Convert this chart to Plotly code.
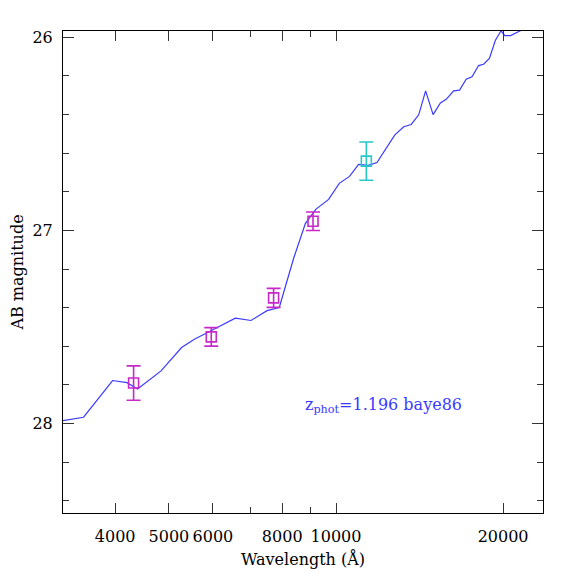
#!/usr/bin/env python

import numpy as np
import plotly.graph_objects as go

# best-fit template spectrum (wavelength in Angstrom, AB mag)
sed_wave = [3200, 3509, 3958, 4202, 4390, 4839, 5270, 5556, 5977, 6586,
            7028, 7511, 7903, 8386, 8805, 9204, 9698, 10137, 10575, 10982,
            11434, 11853, 12755, 13241, 13660, 14092, 14502, 14960, 15418,
            15795, 16292, 16697, 17160, 17579, 18067, 18446, 18897, 19364,
            19828, 20142, 20633, 21481, 23500]
sed_mag = [27.986, 27.967, 27.777, 27.788, 27.821, 27.727, 27.606, 27.563,
           27.517, 27.454, 27.466, 27.415, 27.399, 27.145, 26.964, 26.889,
           26.839, 26.756, 26.720, 26.658, 26.663, 26.648, 26.506, 26.463,
           26.451, 26.401, 26.277, 26.400, 26.340, 26.321, 26.277, 26.273,
           26.217, 26.204, 26.146, 26.139, 26.109, 26.016, 25.966, 25.991,
           25.991, 25.966, 25.900]

# observed photometry
opt_wave = [4318, 5960, 7719, 9090]
opt_mag = [27.790, 27.551, 27.349, 26.952]
opt_err = [0.089, 0.048, 0.049, 0.048]

nir_wave = [11340]
nir_mag = [26.641]
nir_err = [0.099]

xticks = [4000, 5000, 6000, 8000, 10000, 20000]
xminor = [7000, 9000]
label = "z<sub>phot</sub>=1.196 baye86"

blue = "#3a3aff"
magenta = "#c828c8"
cyan = "#28c8c8"
font = "DejaVu Serif"

fig = go.Figure()
fig.add_trace(go.Scatter(x=sed_wave, y=sed_mag, mode="lines",
                         line=dict(color=blue, width=1.2), hoverinfo="skip"))
fig.add_trace(go.Scatter(x=opt_wave, y=opt_mag, mode="markers",
                         marker=dict(symbol="square-open", size=10, color=magenta,
                                     line=dict(width=1.6, color=magenta)),
                         error_y=dict(type="data", array=opt_err, color=magenta,
                                      thickness=1.6, width=7)))
fig.add_trace(go.Scatter(x=nir_wave, y=nir_mag, mode="markers",
                         marker=dict(symbol="square-open", size=10, color=cyan,
                                     line=dict(width=1.6, color=cyan)),
                         error_y=dict(type="data", array=nir_err, color=cyan,
                                      thickness=1.6, width=7)))

fig.add_annotation(x=0.5, y=0.2236, xref="paper", yref="paper",
                   text=label, showarrow=False, xanchor="left", yanchor="middle",
                   font=dict(family=font, size=16, color=blue))

fig.update_xaxes(type="log", range=[np.log10(3222), np.log10(23600)],
                 tickmode="array", tickvals=xticks, ticktext=[str(v) for v in xticks],
                 ticks="inside", ticklen=10, tickwidth=1, tickcolor="#333",
                 minor=dict(tickmode="array", tickvals=xminor, ticks="inside",
                            ticklen=6, tickwidth=1, tickcolor="#333", showgrid=False),
                 showline=True, linecolor="black", linewidth=1, mirror="ticks",
                 showgrid=False, zeroline=False, ticklabelstandoff=9, automargin=False,
                 tickfont=dict(family=font, size=16, color="black"),
                 title=dict(text="Wavelength (Å)", standoff=8,
                            font=dict(family=font, size=16, color="black")))
fig.update_yaxes(range=[28.463, 25.967],
                 tickmode="array", tickvals=[26, 27, 28],
                 ticks="inside", ticklen=11, tickwidth=1, tickcolor="#333",
                 minor=dict(tickmode="linear", tick0=26, dtick=0.2, ticks="inside",
                            ticklen=6, tickwidth=1, tickcolor="#333", showgrid=False),
                 showline=True, linecolor="black", linewidth=1, mirror="ticks",
                 showgrid=False, zeroline=False, ticklabelstandoff=6, automargin=False,
                 tickfont=dict(family=font, size=16, color="black"),
                 title=dict(text="AB magnitude", standoff=13,
                            font=dict(family=font, size=16, color="black")))

# page body adds ~8px offset, so margins are shifted to keep the frame in place
fig.update_layout(width=574, height=574, showlegend=False,
                  margin=dict(l=55, r=39, t=23, b=69),
                  plot_bgcolor="white", paper_bgcolor="white")
fig.write_html("out.html")
